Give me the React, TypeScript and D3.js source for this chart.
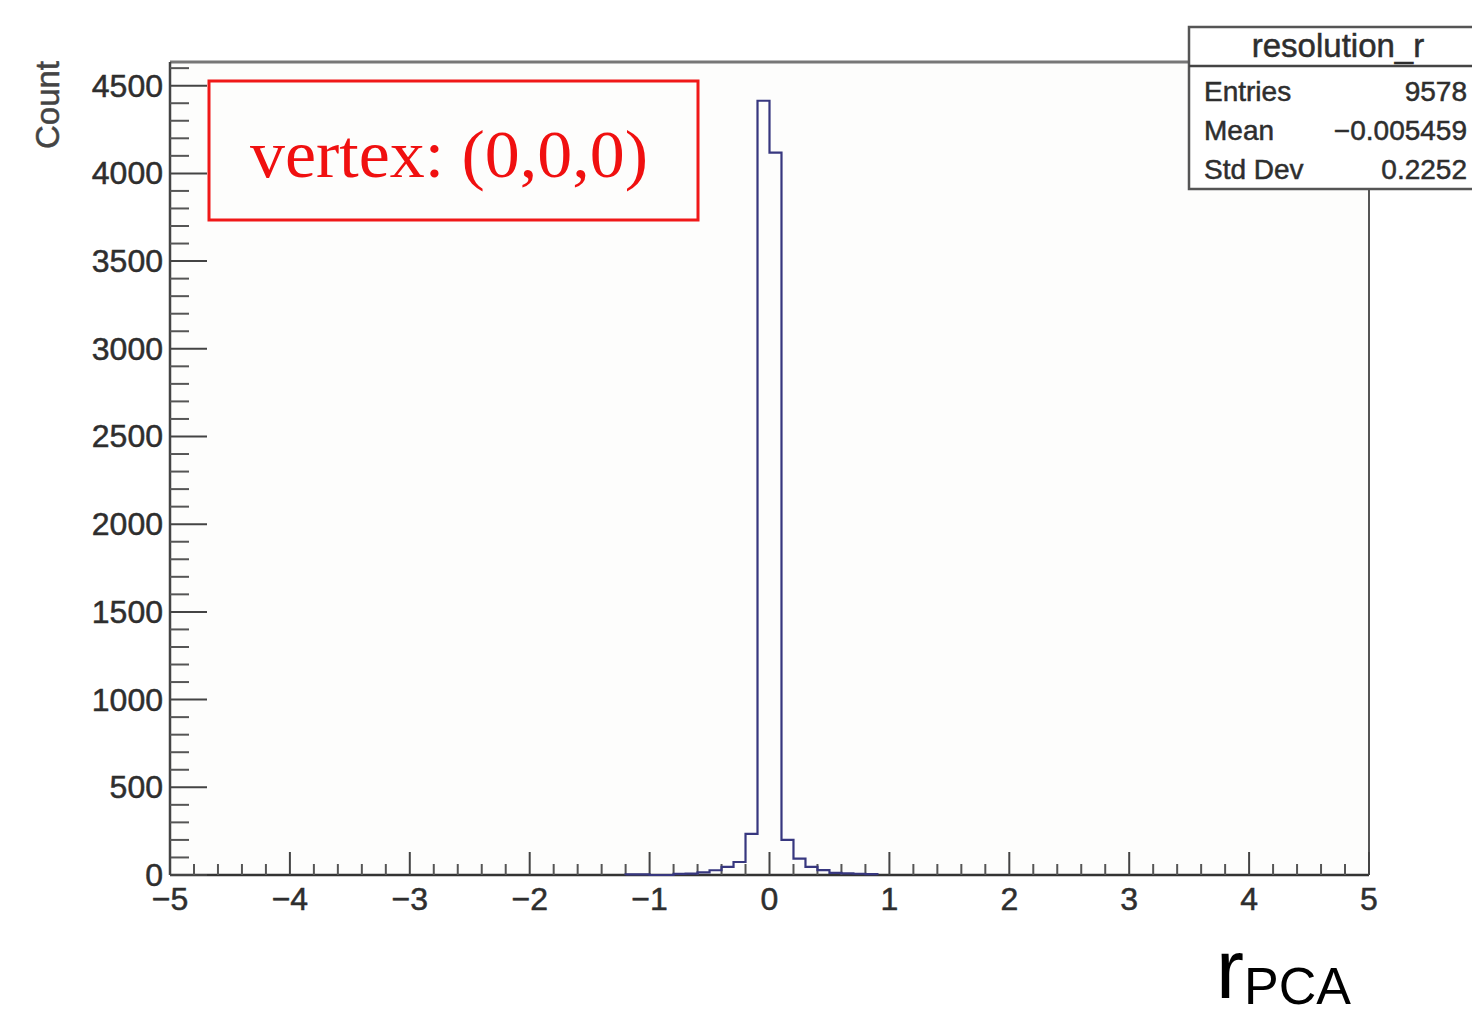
import React from 'react'
import * as d3 from 'd3'

// histogram bins (lower edge, width 0.1) and counts
const binLows = [-1.2, -1.1, -1.0, -0.9, -0.8, -0.7, -0.6, -0.5, -0.4, -0.3, -0.2, -0.1, 0.0, 0.1, 0.2, 0.3, 0.4, 0.5, 0.6, 0.7, 0.8]
const binCounts = [3, 3, 0, 0, 6, 8, 15, 27, 46, 74, 235, 4414, 4118, 200, 93, 46, 28, 12, 9, 7, 5]
const binWidth = 0.1

const xTicks = [-5, -4, -3, -2, -1, 0, 1, 2, 3, 4, 5]
const yTicks = [0, 500, 1000, 1500, 2000, 2500, 3000, 3500, 4000, 4500]

const statsTitle = 'resolution_r'
const statsLabels = ['Entries', 'Mean', 'Std Dev']
const statsValues = ['9578', '\u22120.005459', '0.2252']

const W = 1472
const H = 1016
const left = 170
const right = 1369
const bottom = 875
const top = 62

const sans = '"Liberation Sans", Arial, Helvetica, sans-serif'
const serif = '"Liberation Serif", "Times New Roman", serif'
const fmt = (v: number) => (v < 0 ? '\u2212' + Math.abs(v) : String(v))

export default function App() {
  const x = d3.scaleLinear().domain([-5, 5]).range([left, right])
  const y = d3.scaleLinear().domain([0, 4635]).range([bottom, top])

  // minor ticks
  const xMinor = d3.range(-50, 51, 2).map(v => v / 10).filter(v => !Number.isInteger(v))
  const yMinor = d3.range(0, 4601, 100).filter(v => v % 500 !== 0)

  // step outline of the histogram
  let d = `M${x(binLows[0])},${y(0)}`
  binLows.forEach((lo, i) => {
    d += `L${x(lo)},${y(binCounts[i])}L${x(lo + binWidth)},${y(binCounts[i])}`
  })
  d += `L${x(binLows[binLows.length - 1] + binWidth)},${y(0)}`

  const boxX = 1189
  const boxTop = 27
  const boxBottom = 189
  const lbl = {fontFamily: sans, fill: '#2e2e2e', stroke: '#2e2e2e', strokeWidth: 0.5}

  return (
    <svg width={W} height={H} style={{position: 'absolute', left: 0, top: 0, background: '#fff'}}>
      <rect x={left} y={top} width={right - left} height={bottom - top} fill="#fdfdfc" />

      {/* frame */}
      <line x1={left} x2={boxX} y1={top} y2={top} stroke="#777" strokeWidth={3} />
      <line x1={right} x2={right} y1={boxBottom} y2={bottom} stroke="#555" strokeWidth={2} />
      <line x1={left} x2={left} y1={top} y2={bottom} stroke="#444" strokeWidth={2.5} />
      <line x1={left} x2={right} y1={bottom} y2={bottom} stroke="#333" strokeWidth={2.5} />

      {/* y ticks */}
      {yTicks.map(t => (
        <g key={'y' + t}>
          <line x1={left} x2={left + 37} y1={y(t)} y2={y(t)} stroke="#444" strokeWidth={2} />
          <text x={163} y={y(t) + 11} textAnchor="end" fontSize={32} {...lbl}>
            {t}
          </text>
        </g>
      ))}
      {yMinor.map(t => (
        <line key={'ym' + t} x1={left} x2={left + 19} y1={y(t)} y2={y(t)} stroke="#555" strokeWidth={2} />
      ))}

      {/* x ticks */}
      {xTicks.map(t => (
        <g key={'x' + t}>
          <line x1={x(t)} x2={x(t)} y1={bottom} y2={bottom - 23} stroke="#444" strokeWidth={2} />
          <text x={x(t)} y={910} textAnchor="middle" fontSize={32} {...lbl}>
            {fmt(t)}
          </text>
        </g>
      ))}
      {xMinor.map(t => (
        <line key={'xm' + t} x1={x(t)} x2={x(t)} y1={bottom} y2={bottom - 11} stroke="#555" strokeWidth={2} />
      ))}

      {/* histogram */}
      <path d={d} fill="none" stroke="#37377f" strokeWidth={2.2} />

      {/* y axis title */}
      <text transform="translate(59,105) rotate(-90)" textAnchor="middle" fontSize={33} {...lbl} fill="#444" stroke="#444">
        Count
      </text>

      {/* red annotation */}
      <rect x={209} y={81} width={489} height={139} fill="none" stroke="#f01818" strokeWidth={3} />
      <text x={250} y={177} fontFamily={serif} fontSize={68} textLength={398} lengthAdjust="spacingAndGlyphs" fill="#f01010">
        vertex: (0,0,0)
      </text>

      {/* stats box */}
      <rect x={boxX} y={boxTop} width={W - boxX + 10} height={boxBottom - boxTop} fill="#fff" stroke="#555" strokeWidth={2.5} />
      <line x1={boxX} x2={W} y1={66} y2={66} stroke="#444" strokeWidth={2.5} />
      <text x={1338} y={57} textAnchor="middle" fontSize={33} {...lbl}>
        {statsTitle}
      </text>
      {statsLabels.map((lab, i) => (
        <g key={lab}>
          <text x={1204} y={101 + i * 39} fontSize={28} {...lbl}>
            {lab}
          </text>
          <text x={1467} y={101 + i * 39} textAnchor="end" fontSize={28} {...lbl}>
            {statsValues[i]}
          </text>
        </g>
      ))}

      {/* x axis title */}
      <text x={1216} y={998} fontFamily={sans} fill="#000">
        <tspan fontSize={84}>r</tspan>
        <tspan fontSize={52} dy={6}>PCA</tspan>
      </text>
    </svg>
  )
}
